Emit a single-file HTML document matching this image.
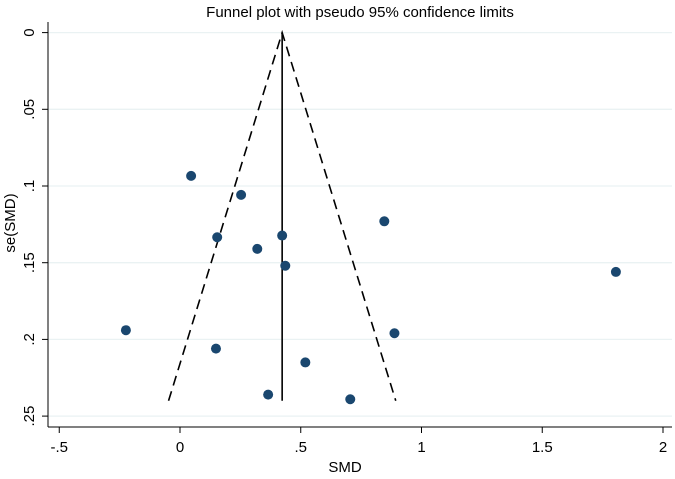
<!DOCTYPE html>
<html><head><meta charset="utf-8"><style>
html,body{margin:0;padding:0;background:#fff}
svg text{font-family:"Liberation Sans",Arial,sans-serif;fill:#000}
</style></head><body>
<svg id="chart" width="675" height="474" xmlns="http://www.w3.org/2000/svg">
<rect width="675" height="474" fill="#fff"/>
<text x="360" y="17" font-size="15" text-anchor="middle">Funnel plot with pseudo 95% confidence limits</text>
<g id="grid"></g><g id="axes"></g><g id="marks"></g>
<text x="345" y="472" font-size="15" text-anchor="middle">SMD</text>
<text transform="translate(15,223) rotate(-90)" font-size="15" text-anchor="middle">se(SMD)</text>
</svg>
<script>
const smd=[0.046,0.253,0.154,0.423,0.32,0.436,0.846,1.805,-0.224,0.888,0.149,0.519,0.365,0.705];
const se=[0.0934,0.1058,0.1334,0.1323,0.141,0.152,0.123,0.156,0.194,0.196,0.206,0.215,0.236,0.239];
const pooled=0.423;
const seMax=0.24;
const xTicks=[-0.5,0,0.5,1,1.5,2];
const xTickLabels=["-.5","0",".5","1","1.5","2"];
const yTicks=[0,0.05,0.1,0.15,0.2,0.25];
const yTickLabels=["0",".05",".1",".15",".2",".25"];
const NS="http://www.w3.org/2000/svg";
const X=v=>180+v*241.5, Y=v=>32.6+v*1534;
function mk(t,a,p){const e=document.createElementNS(NS,t);for(const k in a)e.setAttribute(k,a[k]);p.appendChild(e);return e;}
const grid=document.getElementById('grid'),axes=document.getElementById('axes'),marks=document.getElementById('marks');
yTicks.forEach((v,i)=>{
 const g=mk('line',{x1:48,x2:672,y1:Y(v),y2:Y(v),stroke:'#eaf2f3','stroke-width':1.3},grid);
 
 
 const t=mk('line',{x1:42,x2:48,y1:Y(v),y2:Y(v),stroke:'#000'},axes);
 
 
 const l=mk('text',{transform:`translate(34,${Y(v)}) rotate(-90)`,'font-size':15,'text-anchor':'middle'},axes);
 l.textContent=yTickLabels[i];
 
 
});
const ax1=mk('line',{x1:48,x2:48,y1:22,y2:427,stroke:'#000','stroke-width':1},axes);


const ax2=mk('line',{x1:48,x2:672,y1:427,y2:427,stroke:'#000','stroke-width':1},axes);


xTicks.forEach((v,i)=>{
 const t=mk('line',{x1:X(v),x2:X(v),y1:427,y2:433,stroke:'#000'},axes);
 
 
 const l=mk('text',{x:X(v),y:452,'font-size':15,'text-anchor':'middle'},axes);
 l.textContent=xTickLabels[i];
 
 
});
const fl=mk('polyline',{points:`${X(pooled-1.96*seMax)},${Y(seMax)} ${X(pooled)},${Y(0)} ${X(pooled+1.96*seMax)},${Y(seMax)}`,fill:'none',stroke:'#000','stroke-width':1.6,'stroke-dasharray':'10,6'},marks);


const pl=mk('line',{x1:X(pooled),x2:X(pooled),y1:Y(0),y2:Y(seMax),stroke:'#000','stroke-width':1.6},marks);


smd.forEach((v,i)=>{
 const c=mk('circle',{cx:X(v),cy:Y(se[i]),r:5,fill:'#1a476f'},marks);
 
 
});
</script>
</body></html>
